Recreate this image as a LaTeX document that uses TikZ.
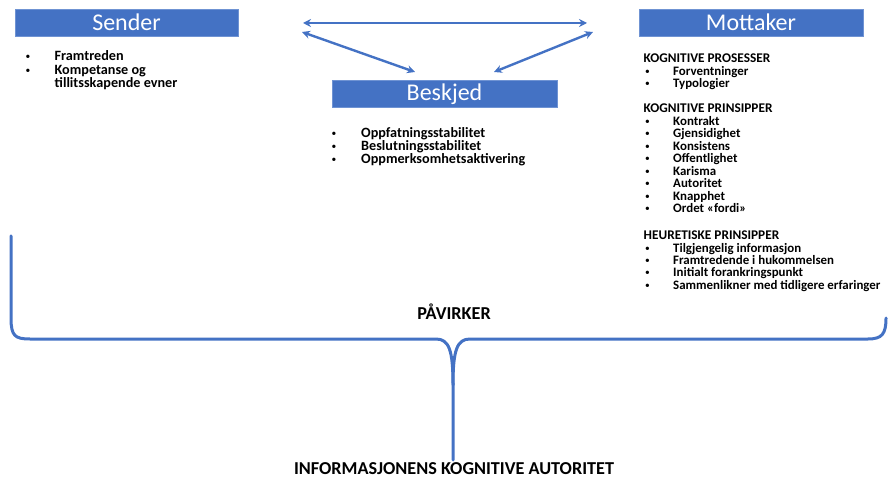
\documentclass[tikz,border=0pt]{standalone}
\usepackage{fontspec}
\setmainfont{Carlito}
\usetikzlibrary{arrows.meta}
\definecolor{accent}{HTML}{4472C4}
\definecolor{accentedge}{HTML}{6F93D3}
\tikzset{
  titlebox/.style={draw=accentedge, line width=0.6pt, fill=accent, text=white,
    minimum height=27pt, inner sep=0pt, font=\fontsize{24}{26}\selectfont},
  link/.style={draw=accent, line width=2.4pt, {Stealth[length=8pt,width=8pt]}-{Stealth[length=8pt,width=8pt]}},
  brace/.style={draw=accent, line width=3pt, line cap=round},
  item/.style={anchor=base west, inner sep=0pt, font=\bfseries\fontsize{12.9}{14}\selectfont},
  bigitem/.style={anchor=base west, inner sep=0pt, font=\bfseries\fontsize{14.2}{16}\selectfont},
  head/.style={anchor=base west, inner sep=0pt, font=\bfseries\fontsize{13.3}{15}\selectfont},
  dot/.style={anchor=base, inner sep=0pt, font=\fontsize{9.5}{11}\selectfont},
  caption/.style={anchor=base, inner sep=0pt, font=\bfseries\fontsize{18.2}{20}\selectfont},
}
\begin{document}
\begin{tikzpicture}[x=1pt, y=-1pt]
\useasboundingbox (0,0) rectangle (888,478);

% title boxes
\node[titlebox, minimum width=223pt] (sender)   at (126.5,22.5) {Sender};
\node[titlebox, minimum width=224pt] (mottaker) at (751,22.5)   {Mottaker};
\node[titlebox, minimum width=225pt] (beskjed)  at (444.5,94)   {Beskjed};

% two-way links between the three parties
\coordinate (hl) at (303,23);
\coordinate (hr) at (587,23);
\coordinate (dl) at (302,32);
\coordinate (dlb) at (415,72);
\coordinate (dr) at (593,32);
\coordinate (drb) at (494,72);
\draw[link] (hl) -- (hr);
\draw[link] (dl) -- (dlb);
\draw[link] (dr) -- (drb);

% sender list
\node[dot] (sb1) at (28,59.5) {\textbullet};
\node[bigitem] (s1) at (54.5,60.7) {Framtreden};
\node[dot] (sb2) at (28,73.5) {\textbullet};
\node[bigitem] (s2) at (54.5,74.7) {Kompetanse og};
\node[bigitem] (s3) at (54.5,87.7) {tillitsskapende evner};

% message list
\foreach \t [count=\i] in {Oppfatningsstabilitet, Beslutningsstabilitet, Oppmerksomhetsaktivering}{
  \node[dot] (bb\i) at (334,{124.3+12.7*\i}) {\textbullet};
  \node[bigitem] (b\i) at (361,{125.2+12.7*\i}) {\t};
}

% receiver lists
\node[head] (h1) at (643.5,63) {KOGNITIVE PROSESSER};
\foreach \t [count=\i] in {Forventninger, Typologier}{
  \node[dot] (pb\i) at (647.5,{62+12.4*\i}) {\textbullet};
  \node[item] (p\i) at (673,{63+12.4*\i}) {\t};
}
\node[head] (h2) at (643.5,112.7) {KOGNITIVE PRINSIPPER};
\foreach \t [count=\i] in {Kontrakt, Gjensidighet, Konsistens, Offentlighet, Karisma, Autoritet, Knapphet, Ordet «fordi»}{
  \node[dot] (kb\i) at (647.5,{111.7+12.5*\i}) {\textbullet};
  \node[item] (k\i) at (673,{112.7+12.5*\i}) {\t};
}
\node[head] (h3) at (643.5,240) {HEURETISKE PRINSIPPER};
\foreach \t [count=\i] in {Tilgjengelig informasjon, Framtredende i hukommelsen, Initialt forankringspunkt, Sammenlikner med tidligere erfaringer}{
  \node[dot] (eb\i) at (647.5,{239+12.3*\i}) {\textbullet};
  \node[item] (e\i) at (673,{240+12.3*\i}) {\t};
}

% the brace gathering everything into one result
\coordinate (lt) at (11,236);
\coordinate (rt) at (886,318);
\coordinate (tip) at (453,460);
\draw[brace] (lt) -- (11,318) .. controls (11,336) and (15,339) .. (30,339)
  -- (436,339) .. controls (449,339) and (453,350) .. (453,385) -- (tip);
\draw[brace] (453,385) .. controls (453,350) and (457,339) .. (470,339)
  -- (868,339) .. controls (882,339) and (886,334) .. (rt);

\node[caption] (pav) at (454,319) {PÅVIRKER};
\node[caption] (res) at (454,474) {INFORMASJONENS KOGNITIVE AUTORITET};
\end{tikzpicture}
\end{document}
